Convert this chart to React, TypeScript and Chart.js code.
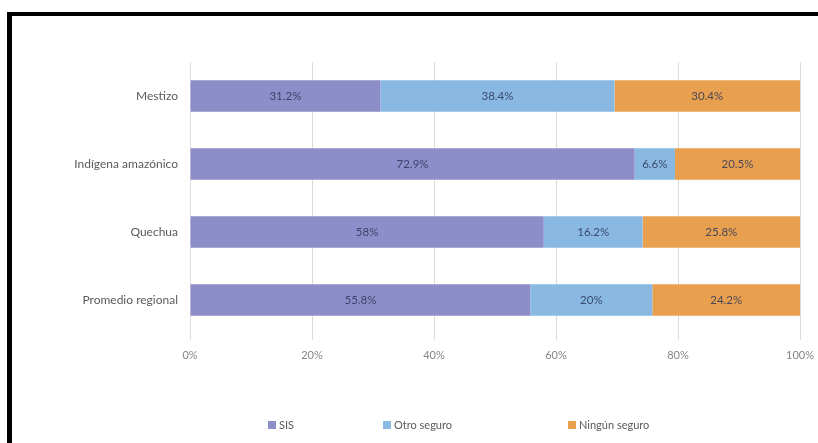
import React, { useEffect, useRef } from "react";
import { Chart, registerables } from "chart.js";

Chart.register(...registerables);

const categories = ["Mestizo", "Indígena amazónico", "Quechua", "Promedio regional"];
const sisValues = [31.2, 72.9, 58, 55.8];
const otroValues = [38.4, 6.6, 16.2, 20];
const ningunValues = [30.4, 20.5, 25.8, 24.2];
const seriesNames = ["SIS", "Otro seguro", "Ningún seguro"];
const xTicks = [0, 20, 40, 60, 80, 100];

const colors = ["#8d8ec9", "#89b8e2", "#e9a04e"];
const FONT = "Lato, 'Open Sans', sans-serif";

const labelPlugin = {
  id: "segLabels",
  afterDatasetsDraw(chart: any) {
    const ctx = chart.ctx;
    ctx.save();
    ctx.font = `11.5px ${FONT}`;
    ctx.textAlign = "center";
    ctx.textBaseline = "middle";
    ctx.fillStyle = "rgba(45,55,90,0.85)";
    chart.data.datasets.forEach((ds: any, di: number) => {
      const meta = chart.getDatasetMeta(di);
      meta.data.forEach((bar: any, i: number) => {
        const v = ds.data[i];
        const cx = (bar.x + bar.base) / 2;
        ctx.fillText(`${v}%`, cx, bar.y);
      });
    });
    ctx.restore();
  },
};

const legendPlugin = {
  id: "customLegend",
  afterDraw(chart: any) {
    const ctx = chart.ctx;
    const starts = [256, 371, 556];
    const y = 409;
    ctx.save();
    ctx.font = `11px ${FONT}`;
    ctx.textBaseline = "middle";
    ctx.textAlign = "left";
    chart.data.datasets.forEach((ds: any, i: number) => {
      const x = starts[i];
      ctx.fillStyle = ds.backgroundColor;
      ctx.fillRect(x, y - 4, 8, 8);
      ctx.fillStyle = "#5a5a5a";
      ctx.fillText(ds.label, x + 11, y);
    });
    ctx.restore();
  },
};

export default function App() {
  const ref = useRef<HTMLCanvasElement>(null);
  useEffect(() => {
    if (!ref.current) return;
    const chart = new Chart(ref.current, {
      type: "bar",
      data: {
        labels: categories,
        datasets: [
          { label: seriesNames[0], data: sisValues, backgroundColor: colors[0] },
          { label: seriesNames[1], data: otroValues, backgroundColor: colors[1] },
          { label: seriesNames[2], data: ningunValues, backgroundColor: colors[2] },
        ],
      },
      options: {
        indexAxis: "y",
        animation: false,
        responsive: false,
        maintainAspectRatio: false,
        layout: { padding: { top: 46, bottom: 69, right: 18, left: 0 } },
        datasets: { bar: { barPercentage: 0.46, categoryPercentage: 1 } },
        plugins: { legend: { display: false }, tooltip: { enabled: false } },
        scales: {
          x: {
            stacked: true,
            min: 0,
            max: 100,
            afterBuildTicks: (s: any) => {
              s.ticks = xTicks.map((v) => ({ value: v }));
            },
            afterFit: (s: any) => {
              s.height = 40;
              s.paddingLeft = 0;
              s.paddingRight = 0;
            },
            ticks: {
              callback: (v: any) => `${v}%`,
              color: "#858585",
              padding: 9,
              font: { family: FONT, size: 11 },
            },
            grid: { color: "#dcdcdc", tickLength: 6, drawTicks: true },
            border: { display: false },
          },
          y: {
            stacked: true,
            afterFit: (s: any) => {
              s.width = 178;
            },
            ticks: {
              color: "#5a5a5a",
              padding: 12,
              font: { family: FONT, size: 12 },
            },
            grid: { display: false, drawTicks: false },
            border: { display: false },
          },
        },
      },
      plugins: [labelPlugin, legendPlugin],
    });
    return () => chart.destroy();
  }, []);

  return (
    <div style={{ position: "fixed", left: 0, top: 0, width: 818, height: 443, background: "#fff" }}>
      <div style={{ position: "absolute", left: 7, top: 12, width: 5, height: 431, background: "#000" }} />
      <div style={{ position: "absolute", left: 7, top: 12, width: 811, height: 4, background: "#000" }} />
      <canvas
        ref={ref}
        width={806}
        height={427}
        style={{ position: "absolute", left: 12, top: 16, width: 806, height: 427 }}
      />
    </div>
  );
}
